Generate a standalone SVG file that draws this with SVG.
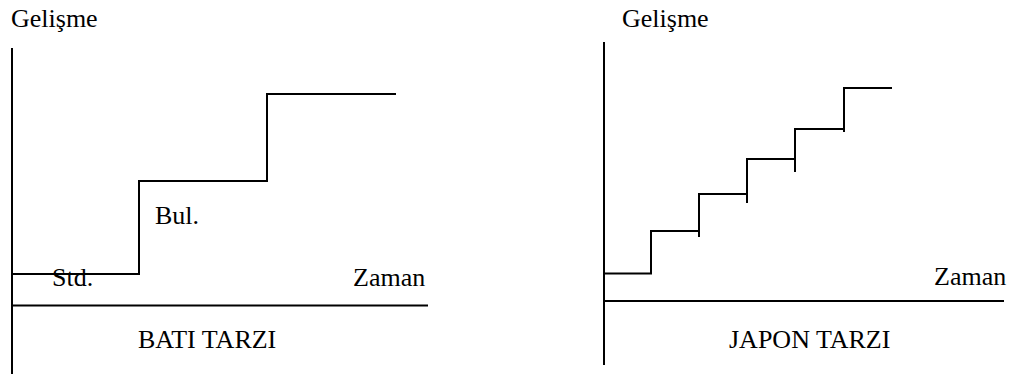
<svg xmlns="http://www.w3.org/2000/svg" width="1014" height="374" viewBox="0 0 1014 374">
  <style>
    .ax { fill: none; stroke: #000; stroke-width: 2; }
    .st { fill: none; stroke: #000; stroke-width: 2; stroke-linejoin: miter; }
    .lbl { font-family: 'Liberation Serif', 'DejaVu Serif', serif; font-size: 26px; fill: #000; }
  </style>
  <rect width="1014" height="374" fill="#fff"/>

  <!-- Western style: two large jumps -->
  <g id="bati">
    <g id="bati-axes">
      <line class="ax" x1="12" y1="48" x2="12" y2="374"/>
      <line class="ax" x1="12" y1="305.5" x2="428" y2="305.5"/>
    </g>
    <g id="bati-steps">
      <polyline class="st" points="12,274 139,274 139,181 267,181 267,94 396,94"/>
    </g>
    <g font-family="Liberation Serif, DejaVu Serif, serif">
      <text class="lbl" x="11" y="27">Gelişme</text>
      <text class="lbl" x="52" y="286">Std.</text>
      <text class="lbl" x="155" y="224">Bul.</text>
      <text class="lbl" x="353" y="286">Zaman</text>
      <text class="lbl" x="138" y="348">BATI TARZI</text>
    </g>
  </g>

  <!-- Japanese style: many small steps -->
  <g id="japon">
    <g id="japon-axes">
      <line class="ax" x1="604" y1="42" x2="604" y2="365"/>
      <line class="ax" x1="604" y1="301" x2="1004" y2="301"/>
    </g>
    <g id="japon-steps">
      <polyline class="st" points="604,273.5 651,273.5 651,231 699,231 699,194 747,194 747,159 795,159 795,129 844,129 844,88 892,88"/>
      <!-- small ticks below each step corner -->
      <line class="st" x1="699" y1="231" x2="699" y2="237"/>
      <line class="st" x1="747" y1="194" x2="747" y2="203"/>
      <line class="st" x1="795" y1="159" x2="795" y2="172"/>
      <line class="st" x1="844" y1="129" x2="844" y2="132"/>
    </g>
    <g font-family="Liberation Serif, DejaVu Serif, serif">
      <text class="lbl" x="622" y="27">Gelişme</text>
      <text class="lbl" x="934" y="285">Zaman</text>
      <text class="lbl" x="729" y="348">JAPON TARZI</text>
    </g>
  </g>
</svg>
